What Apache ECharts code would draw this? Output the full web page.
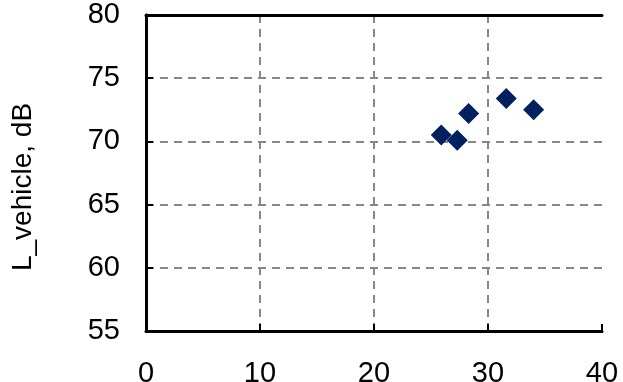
<!DOCTYPE html>
<html>
<head>
<meta charset="utf-8">
<script src="https://cdn.jsdelivr.net/npm/echarts@6/dist/echarts.min.js"></script>
<style>
  html, body { margin: 0; padding: 0; background: #fff; }
  #chart { width: 623px; height: 382px; }
</style>
</head>
<body>
<div id="chart"></div>
<script>
// Vehicle noise level measurements
const speedValues = [25.9, 27.3, 28.3, 31.6, 34.0];
const levelValues = [70.5, 70.1, 72.2, 73.4, 72.5];
const yAxisTitle = 'L_vehicle, dB';

const points = speedValues.map((x, i) => [x, levelValues[i]]);

const font = '"Liberation Sans", Arial, sans-serif';
const labelSize = 29;
const frame = { show: true, lineStyle: { color: '#000', width: 3 } };
const ticks = { show: true, inside: true, length: 7, lineStyle: { color: '#000', width: 2 } };
const gridLine = {
  show: true, showMinLine: false, showMaxLine: false,
  lineStyle: { color: '#888888', width: 2, type: [8, 6] }
};

const chart = echarts.init(document.getElementById('chart'));
chart.setOption({
  animation: false,
  backgroundColor: '#ffffff',
  grid: { left: 146, top: 15, right: 21, bottom: 51, containLabel: false, outerBoundsMode: 'none' },
  xAxis: [{
    type: 'value', min: 0, max: 40, interval: 10,
    axisLine: frame,
    axisTick: ticks,
    axisLabel: { color: '#000', fontSize: labelSize, fontFamily: font, margin: 28 },
    splitLine: gridLine
  }, {
    // top edge of the frame
    type: 'value', position: 'top', min: 0, max: 40, interval: 10, z: 5,
    axisLine: frame, axisTick: { show: false }, axisLabel: { show: false }, splitLine: { show: false }
  }],
  yAxis: [{
    type: 'value', min: 55, max: 80, interval: 5,
    axisLine: frame,
    axisTick: ticks,
    axisLabel: { color: '#000', fontSize: labelSize, fontFamily: font, margin: 26 },
    splitLine: gridLine
  }, {
    // right edge of the frame
    type: 'value', position: 'right', min: 55, max: 80, interval: 5, z: 5,
    axisLine: frame, axisTick: { show: false }, axisLabel: { show: false }, splitLine: { show: false }
  }],
  graphic: [{
    type: 'text',
    x: 23, y: 187,
    rotation: Math.PI / 2,
    style: {
      text: yAxisTitle,
      fill: '#000',
      font: '28px "Liberation Sans", Arial, sans-serif',
      align: 'center',
      verticalAlign: 'middle'
    }
  }],
  series: [{
    type: 'scatter',
    data: points,
    symbol: 'diamond',
    symbolSize: [21, 21],
    itemStyle: { color: '#002060', opacity: 1 }
  }]
});
</script>
</body>
</html>
